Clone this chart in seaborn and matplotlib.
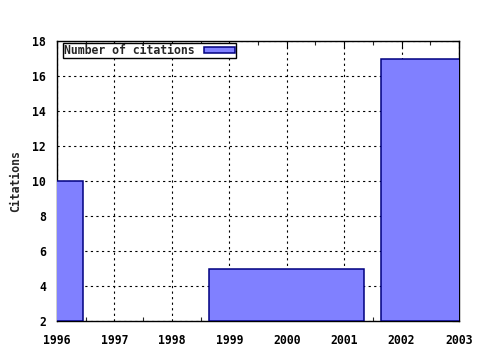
import matplotlib
matplotlib.use("Agg")
import matplotlib.pyplot as plt
import seaborn as sns
import pandas as pd
from matplotlib.ticker import MultipleLocator

years = [1996, 2000, 2003]
citations = [10, 5, 17]
widths = [0.9, 2.7, 2.7]
xticks = [1996, 1997, 1998, 1999, 2000, 2001, 2002, 2003]
yticks = [2, 4, 6, 8, 10, 12, 14, 16, 18]

sns.set_style("white")
plt.rcParams['font.family'] = ['DejaVu Sans Mono', 'DejaVu Sans']

df = pd.DataFrame({"year": years, "citations": citations, "width": widths})

fig = plt.figure(figsize=(4.8, 3.5), dpi=100)
ax = fig.add_axes([57/480, 29/350, 402/480, 280/350])

ax.bar(df["year"], df["citations"] - 2, width=df["width"], bottom=2,
       color="#8080ff", edgecolor="#000080", linewidth=1.1,
       label="Number of citations", zorder=3)

ax.set_xlim(1996, 2003)
ax.set_ylim(2, 18)
ax.set_xticks(xticks)
ax.set_xticklabels([str(x) for x in xticks])
ax.set_yticks(yticks)
ax.set_yticklabels([str(y) for y in yticks])
ax.xaxis.set_minor_locator(MultipleLocator(0.5))

ax.grid(True, which="major", color="black", linestyle=(0, (2, 3)), linewidth=0.8, zorder=1)
for s in ax.spines.values():
    s.set_color("black")
    s.set_linewidth(1.0)

ax.tick_params(axis="both", which="major", direction="in", length=5, width=0.8,
               top=True, right=True, labelsize=8.3, colors="black")
ax.tick_params(axis="x", which="major", pad=9)
ax.tick_params(axis="y", which="major", pad=8)
ax.tick_params(axis="x", which="minor", direction="in", length=3, width=0.8, top=True, bottom=True)
for lbl in ax.get_xticklabels() + ax.get_yticklabels():
    lbl.set_fontweight("bold")

ax.set_ylabel("Citations", fontsize=8.3, fontweight="bold", labelpad=7)

leg = ax.legend(loc="upper left", bbox_to_anchor=(0.014, 0.993), fancybox=False,
                frameon=True, edgecolor="black", framealpha=1.0,
                prop={"size": 8.3, "weight": "bold"}, markerfirst=False,
                handlelength=2.7, handleheight=0.5, borderpad=0.1,
                handletextpad=0.8, borderaxespad=0.0)
leg.get_frame().set_linewidth(1.0)
leg.set_zorder(5)

fig.savefig("out.png", dpi=100)
